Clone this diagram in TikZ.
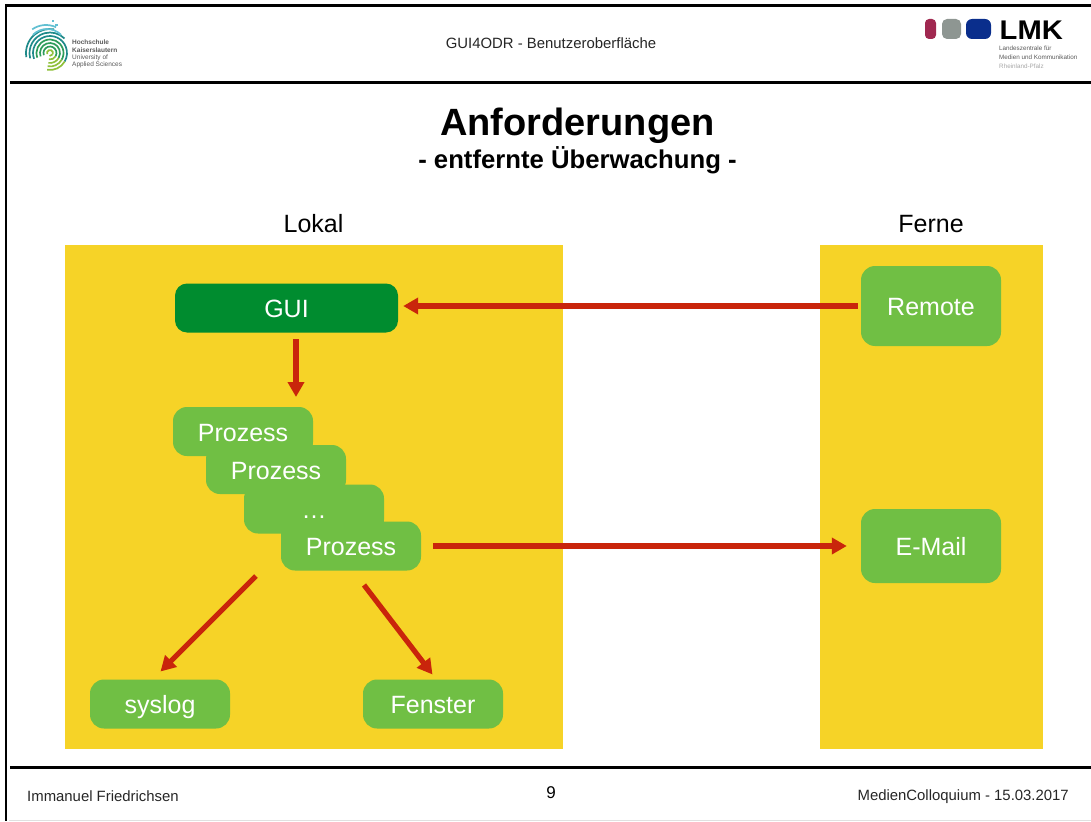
\documentclass[tikz,border=0pt]{standalone}
\usepackage{fontspec}
\setmainfont{Liberation Sans}
\usetikzlibrary{positioning,arrows.meta}
\definecolor{bandgelb}{HTML}{F6D327}
\definecolor{hellgruen}{HTML}{70BF44}
\definecolor{dunkelgruen}{HTML}{008C2F}
\definecolor{pfeilrot}{HTML}{C9250B}
\definecolor{lmkrot}{HTML}{A02850}
\definecolor{lmkgrau}{HTML}{8E9692}
\definecolor{lmkblau}{HTML}{0A2E8C}
\definecolor{fphell}{HTML}{62C0D2}
\definecolor{fpteal}{HTML}{1F8A8A}
\definecolor{fpgruen}{HTML}{2E9C5A}
\definecolor{fplime}{HTML}{8FC03A}
\tikzset{
  box/.style={rounded corners=14pt,fill=hellgruen,text=white,font=\fontsize{25}{25}\selectfont,minimum width=140pt,minimum height=49pt,inner sep=0pt,text height=24pt,text depth=5pt},
  pfeil/.style={draw=pfeilrot,line width=5.2pt,-{Triangle[length=15pt,width=16pt]}},
  rahmen/.style={line width=3.2pt,black},
  klein/.style={font=\fontsize{14.9}{15}\selectfont,text=black!85},
  spalte/.style={font=\fontsize{25}{25}\selectfont},
  logotext/.style={font=\fontsize{6.3}{9}\selectfont,align=left,text=black!65,inner sep=0pt,anchor=west}
}
\begin{document}
\begin{tikzpicture}[x=1pt,y=-1pt]
       \useasboundingbox (0,0) rectangle (1091,821);
       % frame
       \draw [line width=3pt] (6,5.3) -- (1091,5.3);
       \draw [line width=2.6pt] (6,4) -- (6,821);
       \draw [rahmen] (10,82.5) -- (1091,82.5);
       \draw [rahmen] (10,767.5) -- (1091,767.5);
       \draw [black!12,line width=1pt] (9,820.5) -- (1091,820.5);
       % head
       \node [klein] (kopf) at (551,43) {GUI4ODR - Benutzeroberfläche};
       \node [font=\bfseries\fontsize{38}{38}\selectfont] (titel) at (577.5,126) {Anforderungen};
       \node [font=\bfseries\fontsize{25.7}{25.7}\selectfont] (untertitel) at (577.5,160) {- entfernte Überwachung -};
       % logo left
       \begin{scope}[line width=1.7pt]
         \foreach \r/\c in {3/fplime,6.5/fpgruen,10/fpgruen,13.5/fpgruen,17/fpteal}{
           \draw [\c] (50,53) ++(200:\r pt) arc (200:-30:\r pt);
           \draw [fplime] (50,53) ++(-30:\r pt) arc (-30:-100:\r pt);
         }
         \draw [fpteal] (50,53) ++(195:20.5pt) arc (195:45:20.5pt);
         \draw [fpteal] (50,53) ++(190:24pt) arc (190:80:24pt);
         \draw [fphell] (47,49) ++(135:20pt) arc (135:45:20pt);
         \draw [fphell] (46,49) ++(125:24pt) arc (125:65:24pt);
         \draw [fphell] (52,21) -- (54,21);
         \draw [fphell] (55,25) -- (58,25);
       \end{scope}
       \node [logotext,font=\fontsize{6.5}{7.2}\selectfont] (hslogo) at (72,54) {\textbf{Hochschule}\\\textbf{Kaiserslautern}\\University of\\Applied Sciences};
       % logo right
       \fill [rounded corners=4pt,fill=lmkrot] (925,19) rectangle (936,39);
       \fill [rounded corners=5pt,fill=lmkgrau] (942,19) rectangle (961,39);
       \fill [rounded corners=6pt,fill=lmkblau] (966,19) rectangle (991,39);
       \node [font=\bfseries\fontsize{27}{27}\selectfont,xscale=1.08,inner sep=0pt,anchor=west] (lmk) at (999.5,30.5) {LMK};
       \node [logotext] (lmktext) at (999,57) {Landeszentrale für\\Medien und Kommunikation\\\textcolor{black!35}{Rheinland-Pfalz}};
       % columns
       \fill [bandgelb] (65,245) rectangle (563,749);
       \fill [bandgelb] (820,245) rectangle (1043,749);
       \node [spalte] (lokal) at (313.5,224) {Lokal};
       \node [spalte] (ferne) at (931,224) {Ferne};
       % boxes
       \node [box,fill=dunkelgruen,rounded corners=12pt,minimum width=223pt] (gui) at (286.5,308) {GUI};
       \node [box] (p1) at (243,431.5) {Prozess};
       \node [box,below of=p1,node distance=38pt,xshift=33pt] (p2) {Prozess};
       \node [box,below of=p2,node distance=39.5pt,xshift=38pt] (p3) {\dots};
       \node [box,below of=p3,node distance=37pt,xshift=37pt] (p4) {Prozess};
       \node [box] (syslog) at (160,704) {syslog};
       \node [box,right of=syslog,node distance=273pt] (fenster) {Fenster};
       \node [box,minimum height=80pt] (remote) at (931,306) {Remote};
       \node [box,minimum height=74pt] (email) at (931,546) {E-Mail};
       \coordinate (guifuss) at (296,339);
       \coordinate (p1kopf) at (296,397);
       \coordinate (p4links) at (256,576);
       \coordinate (p4rechts) at (364,585);
       \coordinate (syslogziel) at (160.5,671.5);
       \coordinate (fensterziel) at (432.5,674.5);
       % arrows
       \draw [pfeil,shorten >=5pt,shorten <=3pt] (remote.west) to (gui.east |- remote.west);
       \draw [pfeil] (guifuss) to (p1kopf);
       \draw [pfeil,shorten >=14pt,shorten <=12pt] (p4.east) to (email.west);
       \draw [pfeil] (p4links) to (syslogziel);
       \draw [pfeil] (p4rechts) to (fensterziel);
       % foot
       \node [klein,anchor=west,inner sep=0pt] (autor) at (27,796.5) {Immanuel Friedrichsen};
       \node [font=\fontsize{17}{17}\selectfont] (seite) at (551,793) {9};
       \node [klein,anchor=east,inner sep=0pt] (termin) at (1069,796.5) {MedienColloquium - 15.03.2017};
     \end{tikzpicture}
\end{document}
